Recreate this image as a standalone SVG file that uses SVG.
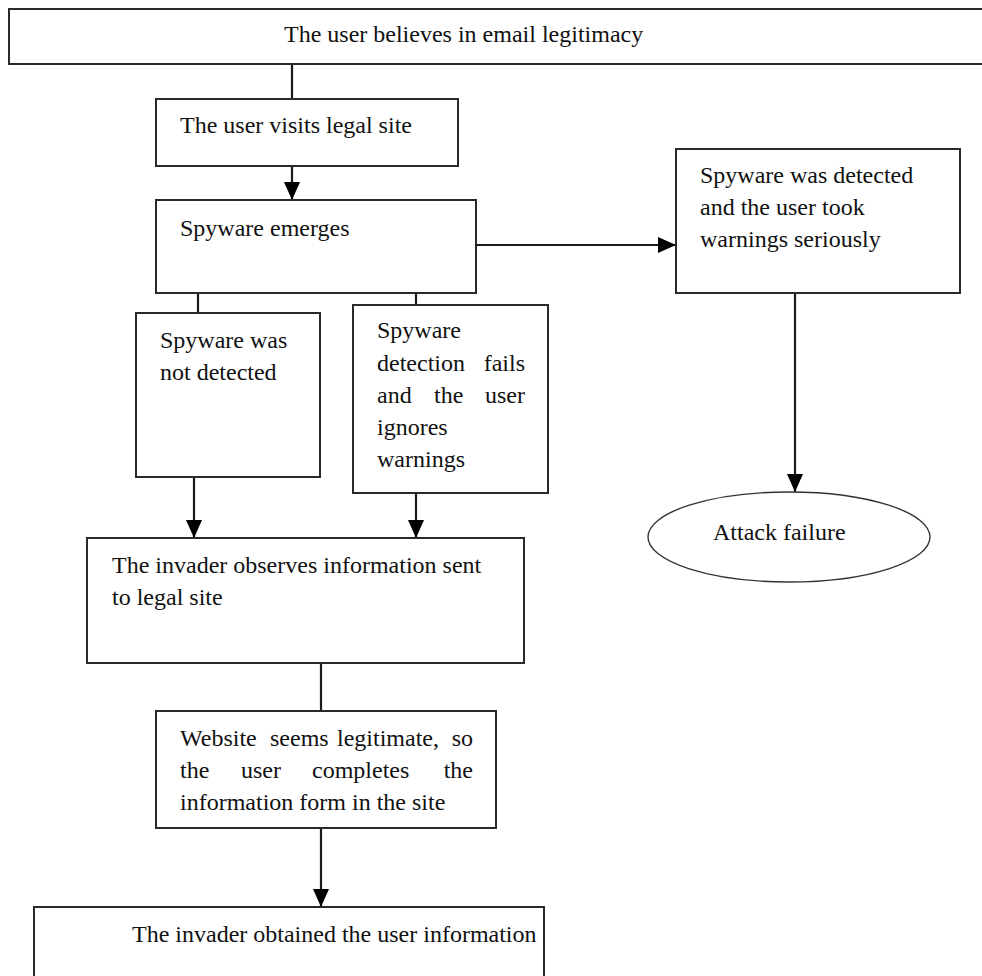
<svg xmlns="http://www.w3.org/2000/svg" width="982" height="976" viewBox="0 0 982 976">
  <style>
    .box { fill: #ffffff; stroke: #2a2a2a; stroke-width: 2; }
    .oval { fill: #ffffff; stroke: #333333; stroke-width: 1.4; }
    .lbl { font-family: "Liberation Serif", "Times New Roman", serif; font-size: 24px; fill: #111111; }
    .wire { fill: none; stroke: #1a1a1a; stroke-width: 2.2; }
  </style>
  <defs>
    <marker id="head" markerUnits="userSpaceOnUse" markerWidth="18" markerHeight="16" refX="18" refY="8" orient="auto">
      <path d="M0,0 L18,8 L0,16 Z" fill="#000000"/>
    </marker>
  </defs>
  <rect width="982" height="976" fill="#ffffff"/>

  <!-- connectors -->
  <g id="connectors">
    <line class="wire" x1="292" y1="64" x2="292" y2="99"/>
    <line class="wire" x1="292" y1="166" x2="292" y2="200" marker-end="url(#head)"/>
    <line class="wire" x1="476" y1="245" x2="676" y2="245" marker-end="url(#head)"/>
    <line class="wire" x1="795" y1="293" x2="795" y2="492" marker-end="url(#head)"/>
    <line class="wire" x1="198" y1="293" x2="198" y2="313"/>
    <line class="wire" x1="416" y1="293" x2="416" y2="305"/>
    <line class="wire" x1="194" y1="477" x2="194" y2="538" marker-end="url(#head)"/>
    <line class="wire" x1="416" y1="493" x2="416" y2="538" marker-end="url(#head)"/>
    <line class="wire" x1="321" y1="663" x2="321" y2="711"/>
    <line class="wire" x1="321" y1="828" x2="321" y2="907" marker-end="url(#head)"/>
  </g>

  <g id="belief">
    <rect class="box" x="9" y="9" width="990" height="55"/>
    <text class="lbl" x="284" y="42">The user believes in email legitimacy</text>
  </g>

  <g id="visit">
    <rect class="box" x="156" y="99" width="302" height="67"/>
    <text class="lbl" x="180" y="133">The user visits legal site</text>
  </g>

  <g id="emerge">
    <rect class="box" x="156" y="200" width="320" height="93"/>
    <text class="lbl" x="180" y="236">Spyware emerges</text>
  </g>

  <g id="detected">
    <rect class="box" x="676" y="149" width="284" height="144"/>
    <text class="lbl" x="700" y="183">Spyware was detected</text>
    <text class="lbl" x="700" y="215">and the user took</text>
    <text class="lbl" x="700" y="247">warnings seriously</text>
  </g>

  <g id="failure">
    <ellipse class="oval" cx="789" cy="537" rx="141" ry="45"/>
    <text class="lbl" x="713" y="540">Attack failure</text>
  </g>

  <g id="undetected">
    <rect class="box" x="136" y="313" width="184" height="164"/>
    <text class="lbl" x="160" y="348">Spyware was</text>
    <text class="lbl" x="160" y="380">not detected</text>
  </g>

  <g id="ignored">
    <rect class="box" x="353" y="305" width="195" height="188"/>
    <text class="lbl" x="377" y="338">Spyware</text>
    <text class="lbl" x="377" y="371">detection</text>
    <text class="lbl" x="525" y="371" text-anchor="end">fails</text>
    <text class="lbl" x="377" y="403">and</text>
    <text class="lbl" x="434" y="403">the</text>
    <text class="lbl" x="525" y="403" text-anchor="end">user</text>
    <text class="lbl" x="377" y="435">ignores</text>
    <text class="lbl" x="377" y="467">warnings</text>
  </g>

  <g id="observe">
    <rect class="box" x="87" y="538" width="437" height="125"/>
    <text class="lbl" x="112" y="573">The invader observes information sent</text>
    <text class="lbl" x="112" y="605">to legal site</text>
  </g>

  <g id="form">
    <rect class="box" x="156" y="711" width="340" height="117"/>
    <text class="lbl" x="180" y="746">Website</text>
    <text class="lbl" x="270" y="746">seems</text>
    <text class="lbl" x="337" y="746">legitimate,</text>
    <text class="lbl" x="473" y="746" text-anchor="end">so</text>
    <text class="lbl" x="180" y="778">the</text>
    <text class="lbl" x="241" y="778">user</text>
    <text class="lbl" x="312" y="778">completes</text>
    <text class="lbl" x="473" y="778" text-anchor="end">the</text>
    <text class="lbl" x="180" y="810">information form in the site</text>
  </g>

  <g id="obtained">
    <rect class="box" x="34" y="907" width="510" height="90"/>
    <text class="lbl" x="132" y="942">The invader obtained the user information</text>
  </g>
</svg>
